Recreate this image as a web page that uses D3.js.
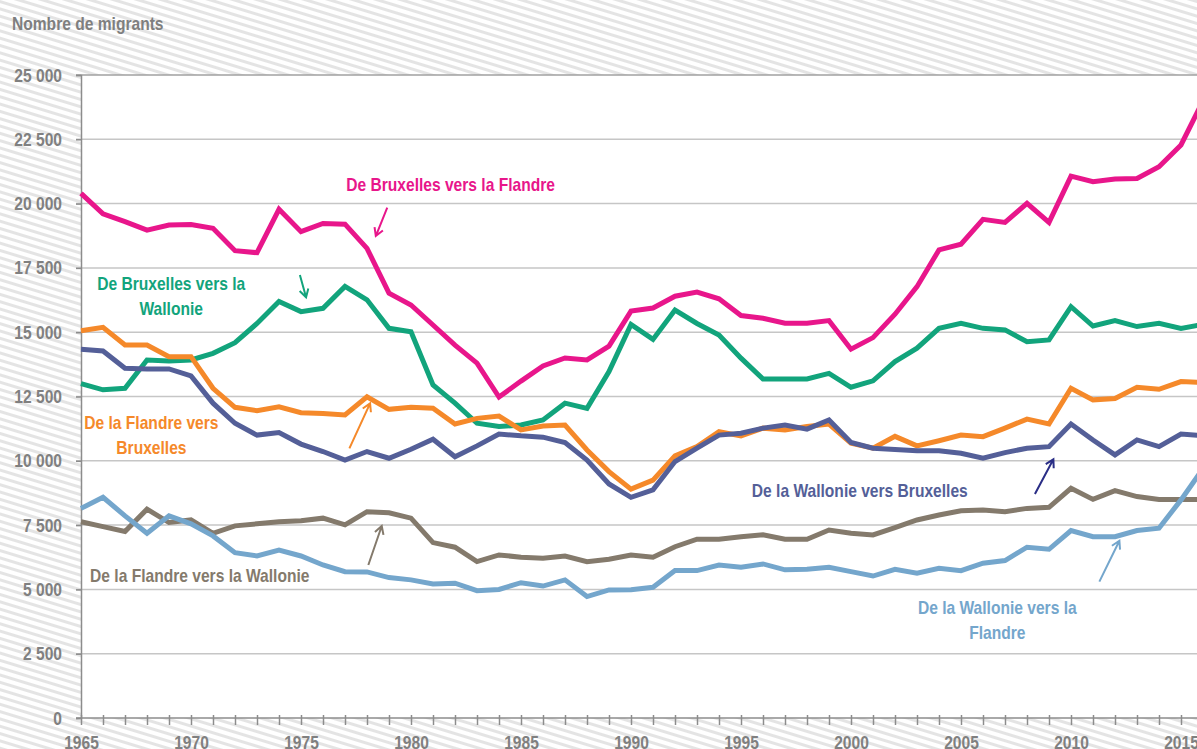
<!DOCTYPE html>
<html>
<head>
<meta charset="utf-8">
<script src="https://cdn.jsdelivr.net/npm/d3@7/dist/d3.min.js"></script>
<style>
  html, body { margin: 0; padding: 0; background: #fff; }
  svg { display: block; }
  text { font-family: "Liberation Sans", Arial, sans-serif; font-weight: bold; font-size: 19px; }
</style>
</head>
<body>
<svg id="chart" width="1197" height="749"></svg>
<script>
const years = d3.range(1965, 2017);
const bxlToFlandre = [20400,19600,19300,18970,19170,19190,19040,18170,18090,19780,18910,19230,19200,18260,16520,16060,15280,14500,13800,12480,13100,13690,14000,13920,14460,15820,15940,16400,16560,16300,15650,15540,15350,15350,15450,14340,14790,15700,16770,18200,18420,19390,19270,20010,19270,21070,20850,20960,20980,21430,22280,24000];
const bxlToWallonie = [13000,12760,12820,13920,13880,13920,14180,14590,15340,16190,15800,15930,16780,16260,15150,15020,12950,12240,11460,11330,11390,11590,12240,12040,13470,15300,14720,15860,15340,14890,13990,13180,13180,13180,13400,12860,13110,13860,14380,15150,15350,15150,15090,14630,14700,15990,15240,15450,15220,15350,15150,15300];
const flandreToBxl = [15060,15190,14500,14500,14050,14050,12820,12080,11950,12100,11870,11840,11780,12490,12000,12080,12040,11430,11650,11740,11200,11350,11390,10420,9580,8900,9250,10190,10550,11130,10970,11270,11200,11330,11430,10680,10490,10950,10580,10780,11000,10940,11270,11620,11430,12820,12370,12420,12860,12780,13080,13050];
const wallonieToBxl = [14340,14270,13600,13570,13570,13300,12240,11460,11000,11100,10650,10360,10030,10360,10100,10450,10840,10160,10580,11040,10970,10920,10710,10030,9100,8580,8870,9970,10490,11000,11070,11270,11390,11230,11590,10710,10490,10440,10390,10390,10290,10100,10320,10490,10550,11430,10810,10230,10810,10550,11040,10980];
const flandreToWallonie = [7630,7440,7250,8120,7600,7700,7180,7470,7550,7630,7670,7770,7510,8020,7980,7770,6820,6640,6080,6340,6250,6210,6300,6080,6170,6340,6250,6660,6950,6950,7050,7120,6950,6950,7310,7180,7120,7400,7700,7890,8060,8090,8020,8150,8190,8930,8500,8840,8610,8500,8500,8500];
const wallonieToFlandre = [8150,8580,7860,7180,7860,7550,7080,6430,6300,6530,6300,5950,5690,5680,5460,5370,5210,5240,4950,5000,5260,5130,5370,4720,4980,4990,5080,5730,5730,5950,5860,5990,5760,5780,5860,5690,5520,5780,5630,5820,5730,6020,6120,6640,6560,7290,7050,7050,7290,7380,8480,9700];
const yTickValues = [0,2500,5000,7500,10000,12500,15000,17500,20000,22500,25000];
const xLabelYears = [1965,1970,1975,1980,1985,1990,1995,2000,2005,2010,2015];
const yTitle = "Nombre de migrants";

const seriesNames = ["De Bruxelles vers la Flandre","De Bruxelles vers la Wallonie","De la Flandre vers Bruxelles","De la Wallonie vers Bruxelles","De la Flandre vers la Wallonie","De la Wallonie vers la Flandre"];
const seriesValues = [bxlToFlandre, bxlToWallonie, flandreToBxl, wallonieToBxl, flandreToWallonie, wallonieToFlandre];
const seriesColors = ["#e8168b","#12a47c","#f5892a","#545f98","#847a6c","#74a6cc"];

// label lines, label centre (year,value), arrow start/end (year,value), arrow colour
const labelLines = [["De Bruxelles vers la Flandre"],["De Bruxelles vers la","Wallonie"],["De la Flandre vers","Bruxelles"],["De la Wallonie vers Bruxelles"],["De la Flandre vers la Wallonie"],["De la Wallonie vers la","Flandre"]];
const labelAt = [[1981.8,20750],[1969.1,16415],[1968.2,11034],[2000.4,8865],[1970.4,5560],[2006.65,3822]];
const arrowFrom = [[1978.92,19840],[1974.95,17220],[1977.2,10486],[2008.36,8709],[1978.06,5950],[2011.29,5300]];
const arrowTo = [[1978.4,18740],[1975.23,16357],[1978.14,12235],[2009.2,10058],[1978.67,7465],[2012.2,6893]];
const arrowColors = ["#e8168b","#12a47c","#f5892a","#2a2e86","#847a6c","#74a6cc"];

const W = 1197, H = 749;
const svg = d3.select("#chart");
const x = d3.scaleLinear().domain([1965, 2016]).range([81, 81 + 22 * 51]);
const y = d3.scaleLinear().domain([0, 25000]).range([718, 75]);
const locale = d3.formatLocale({decimal: ",", thousands: "\u00a0", grouping: [3], currency: ["", "€"]});
const fmt = locale.format(",");

// hatch background
const defs = svg.append("defs");
const pat = defs.append("pattern").attr("id", "hatch").attr("patternUnits", "userSpaceOnUse")
  .attr("width", 40).attr("height", 7).attr("patternTransform", "rotate(17)");
pat.append("rect").attr("width", 40).attr("height", 7).attr("fill", "#ffffff");
pat.append("rect").attr("width", 40).attr("height", 3).attr("fill", "#e4e4e4");
svg.append("rect").attr("width", W).attr("height", H).attr("fill", "url(#hatch)");

// plot background
svg.append("rect").attr("x", x(1965)).attr("y", y(25000)).attr("width", W - x(1965)).attr("height", y(0) - y(25000)).attr("fill", "#fff");

// gridlines
svg.append("g").selectAll("line").data(yTickValues.filter(d => d > 0)).join("line")
  .attr("x1", x(1965) - 5).attr("x2", W)
  .attr("y1", d => y(d)).attr("y2", d => y(d))
  .attr("stroke", d => d === 25000 ? "#a0a0a0" : "#c6c6c6")
  .attr("stroke-width", 1.5);

// y axis
const yAxis = d3.axisLeft(y).tickValues(yTickValues).tickFormat(fmt).tickSize(5).tickPadding(14);
const gy = svg.append("g").attr("transform", `translate(${x(1965)},0)`).call(yAxis);
gy.attr("font-family", null).attr("font-size", null);
gy.select(".domain").attr("stroke", "#8c8c8c").attr("stroke-width", 1.5);
gy.selectAll(".tick line").attr("stroke", "#8c8c8c").attr("stroke-width", 1.5);
gy.selectAll(".tick text").attr("fill", "#808080");

// x axis
const xAxis = d3.axisBottom(x).tickValues(years).tickSize(10).tickFormat(d => xLabelYears.includes(d) ? d : "").tickPadding(11);
const gx = svg.append("g").attr("transform", `translate(0,${y(0) - 3})`).call(xAxis);
gx.attr("font-family", null).attr("font-size", null);
gx.select(".domain").remove();
gx.selectAll(".tick line").attr("stroke", "#8c8c8c").attr("stroke-width", 1.5);
gx.selectAll(".tick text").attr("fill", "#808080");
svg.append("line").attr("x1", x(1965) - 5).attr("x2", W).attr("y1", y(0)).attr("y2", y(0)).attr("stroke", "#8c8c8c").attr("stroke-width", 1.5);

// title
svg.append("text").attr("x", 12).attr("y", 30).attr("fill", "#7f7f7f").text(yTitle);

// lines
const line = d3.line().x((d, i) => x(years[i])).y(d => y(d)).curve(d3.curveLinear);
svg.append("g").selectAll("path").data(seriesValues).join("path")
  .attr("d", d => line(d)).attr("fill", "none")
  .attr("stroke", (d, i) => seriesColors[i]).attr("stroke-width", 5)
  .attr("stroke-linejoin", "miter").attr("stroke-linecap", "butt");

// labels
labelLines.forEach((lines, i) => {
  const cx = x(labelAt[i][0]), cy = y(labelAt[i][1]);
  lines.forEach((s, k) => {
    svg.append("text").attr("text-anchor", "middle").attr("fill", seriesColors[i])
      .attr("x", cx).attr("y", cy + 7 + k * 25 - (lines.length - 1) * 12.5).text(s);
  });
});

// arrows
arrowFrom.forEach((f, i) => {
  const x1 = x(f[0]), y1 = y(f[1]), x2 = x(arrowTo[i][0]), y2 = y(arrowTo[i][1]);
  const ang = Math.atan2(y2 - y1, x2 - x1), L = 9, a = Math.PI / 6;
  const p = `M${x1},${y1}L${x2},${y2}M${x2 - L * Math.cos(ang - a)},${y2 - L * Math.sin(ang - a)}L${x2},${y2}L${x2 - L * Math.cos(ang + a)},${y2 - L * Math.sin(ang + a)}`;
  svg.append("path").attr("d", p).attr("fill", "none").attr("stroke", arrowColors[i]).attr("stroke-width", 2);
});

// condensed lettering (the source uses a condensed bold face)
svg.selectAll("text").each(function () {
  const w = this.getComputedTextLength();
  if (w > 0) d3.select(this).attr("textLength", w * 0.82).attr("lengthAdjust", "spacingAndGlyphs");
});
</script>
</body>
</html>
